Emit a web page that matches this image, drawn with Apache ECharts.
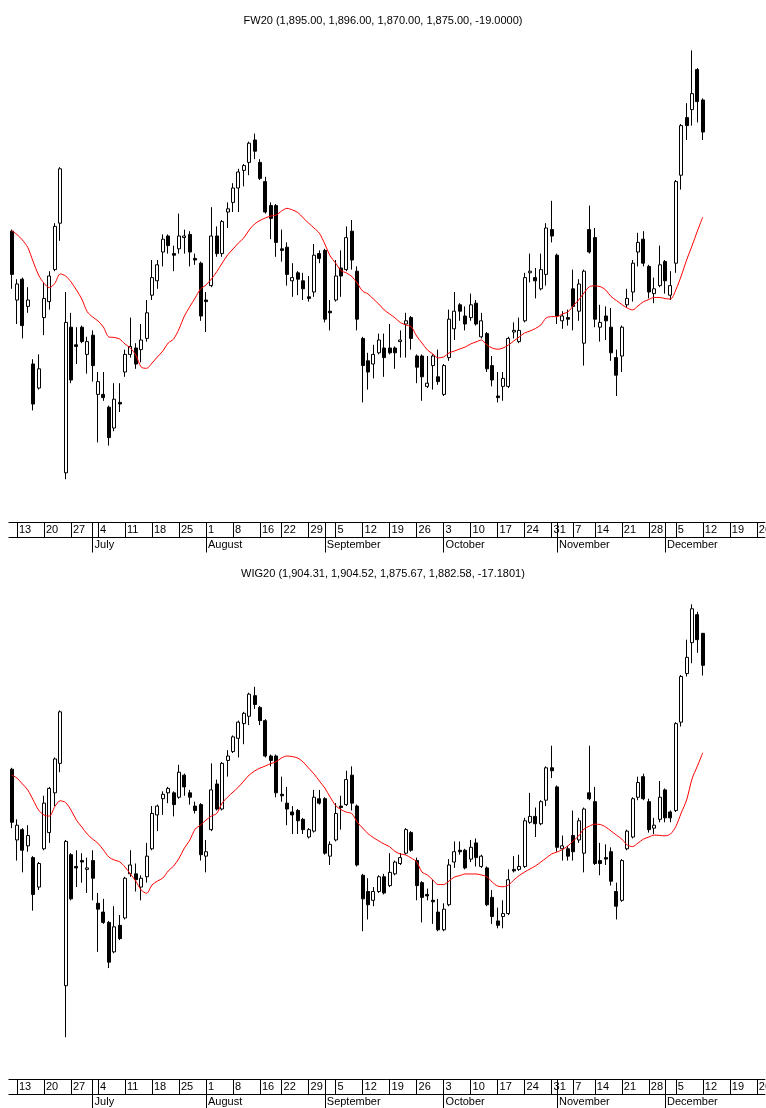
<!DOCTYPE html>
<html><head><meta charset="utf-8">
<script src="https://cdn.jsdelivr.net/npm/echarts@6/dist/echarts.min.js"></script>
<style>html,body{margin:0;padding:0;background:#fff}#chart{width:766px;height:1108px}</style>
</head><body><div id="chart"></div>
<script>
// ---- categories ----
const startDate = '2005-06-10';
const lastDataDate = '2005-12-12';
const endDate = '2005-12-27';
const holidays = ['2005-08-15', '2005-11-01', '2005-11-11'];
const monthNames = ['January','February','March','April','May','June','July','August','September','October','November','December'];

// ---- titles ----
const fw20Title = 'FW20 (1,895.00, 1,896.00, 1,870.00, 1,875.00, -19.0000)';
const wig20Title = 'WIG20 (1,904.31, 1,904.52, 1,875.67, 1,882.58, -17.1801)';

// ---- FW20 [open, close, low, high] ----
const fw20Candles = [
[1813,1786,1777,1814],[1770,1780,1755,1783],[1783,1754,1746,1784],[1766,1770,1762,1778],[1730,1705,1701,1733],
[1715,1727,1714,1736],[1759,1771,1748,1781],[1769,1785,1764,1788],[1789,1816,1788,1818],[1818,1852,1807,1853],
[1662,1756,1658,1775],[1753,1720,1718,1762],[1742,1741,1730,1753],[1753,1744,1743,1754],[1736,1744,1724,1747],
[1748,1729,1719,1751],[1711,1719,1681,1725],[1711,1709,1707,1725],[1703,1684,1679,1704],[1690,1708,1688,1718],
[1706,1705,1700,1718],[1725,1736,1722,1739],[1736,1741,1734,1759],[1740,1730,1727,1743],[1739,1745,1731,1755],
[1746,1762,1744,1770],[1773,1784,1770,1795],[1782,1792,1777,1795],[1800,1808,1791,1811],[1810,1804,1799,1811],
[1799,1798,1788,1804],[1802,1810,1799,1824],[1809,1810,1799,1814],[1811,1800,1791,1813],[1796,1795,1792,1799],
[1793,1760,1757,1794],[1770,1769,1750,1775],[1779,1810,1778,1828],[1810,1799,1797,1816],[1799,1819,1797,1820],
[1825,1827,1815,1831],[1831,1840,1825,1843],[1840,1850,1825,1852],[1851,1854,1841,1855],[1856,1868,1848,1869],
[1870,1863,1858,1874],[1856,1846,1845,1858],[1844,1825,1824,1847],[1829,1821,1808,1831],[1829,1806,1797,1830],
[1802,1801,1794,1814],[1803,1786,1779,1806],[1782,1784,1772,1793],[1787,1783,1773,1788],[1782,1777,1770,1787],
[1772,1771,1769,1785],[1775,1798,1772,1805],[1799,1796,1793,1801],[1801,1758,1756,1802],[1763,1762,1751,1770],
[1770,1785,1769,1795],[1790,1785,1772,1801],[1789,1809,1788,1816],[1813,1795,1789,1820],[1788,1758,1751,1791],
[1746,1729,1706,1747],[1732,1725,1714,1737],[1730,1736,1721,1742],[1737,1745,1736,1749],[1740,1734,1722,1749],
[1740,1737,1736,1755],[1740,1737,1727,1741],[1744,1745,1734,1751],[1755,1757,1734,1762],[1759,1746,1739,1760],
[1735,1728,1718,1736],[1735,1722,1707,1736],[1716,1718,1715,1735],[1729,1735,1714,1736],[1722,1719,1717,1739],
[1711,1729,1710,1730],[1734,1758,1732,1764],[1752,1763,1745,1775],[1767,1763,1757,1768],[1760,1755,1751,1766],
[1759,1767,1757,1774],[1768,1755,1754,1770],[1747,1757,1746,1762],[1749,1727,1725,1750],[1729,1720,1716,1735],
[1710,1709,1706,1725],[1716,1721,1707,1725],[1716,1746,1715,1747],[1750,1751,1746,1756],[1744,1751,1743,1759],
[1757,1784,1756,1787],[1787,1788,1781,1799],[1784,1782,1771,1790],[1777,1789,1776,1799],[1786,1815,1779,1818],
[1814,1810,1806,1832],[1798,1760,1755,1799],[1757,1760,1752,1763],[1759,1758,1754,1764],[1777,1766,1751,1789],
[1763,1780,1757,1783],[1743,1788,1729,1789],[1814,1800,1799,1829],[1809,1758,1753,1815],[1753,1756,1744,1767],
[1760,1757,1745,1766],[1753,1737,1732,1765],[1734,1723,1710,1739],[1735,1753,1725,1754],[1767,1771,1765,1777],
[1775,1793,1769,1795],[1800,1806,1791,1812],[1808,1793,1791,1813],[1791,1775,1771,1792],[1774,1777,1768,1784],
[1779,1792,1778,1804],[1794,1782,1774,1795],[1773,1779,1770,1788],[1793,1844,1787,1845],[1848,1879,1839,1880],
[1884,1879,1870,1893],[1889,1899,1879,1926],[1914,1894,1881,1915],[1895,1875,1870,1896]
];
const fw20Avg = [
1813.3,1810.9,1807.5,1802.8,1793.9,1785.6,1780.4,1777.7,1780.4,1786.3,
1785,1781.3,1776.3,1770.6,1762.7,1759.4,1756.9,1753.1,1746.9,1746.6,
1745.6,1742.5,1740,1735.6,1728.1,1727.3,1730.6,1734.4,1738.1,1743.1,
1745.6,1751.9,1760,1765.8,1771.3,1776.9,1779.4,1783.1,1787.7,1793.1,
1798.1,1801.9,1805.6,1808.8,1813.8,1817.5,1819.7,1821.3,1822.5,1823.1,
1825.6,1827.3,1826.3,1824.7,1821.3,1818.1,1815,1811.7,1805,1797.5,
1793.1,1788.4,1786.9,1784.7,1780.6,1775.6,1773.8,1770.6,1767.5,1763.8,
1761.3,1758.8,1755.9,1754.4,1753.3,1747.5,1743.1,1738.8,1736.3,1733.8,
1734.4,1736.9,1738.1,1739.4,1740.6,1742.5,1743.8,1745,1741.9,1740,
1739.2,1740,1741.9,1744.4,1746.9,1749.4,1750.6,1752.2,1754.4,1758.8,
1759.6,1759.6,1761.3,1762.5,1766.3,1770,1774.4,1778.3,1778.8,1778.4,
1776.3,1772.2,1769.7,1767.2,1765,1763.8,1766.3,1768.9,1770.3,1771.6,
1771.6,1770.9,1770.6,1776.3,1785,1795,1803.8,1813.1,1821.9
];

// ---- WIG20 [open, close, low, high] ----
const wig20Candles = [
[1812,1776,1772,1813],[1764,1774,1750,1778],[1771,1757,1742,1772],[1760,1767,1756,1774],[1752,1727,1716,1753],
[1732,1748,1730,1749],[1758,1789,1757,1794],[1769,1799,1762,1800],[1796,1819,1787,1820],[1816,1851,1810,1852],
[1665,1763,1630,1764],[1754,1724,1723,1755],[1746,1745,1732,1757],[1750,1749,1735,1755],[1744,1745,1728,1752],
[1750,1738,1723,1757],[1721,1717,1688,1728],[1715,1708,1707,1724],[1708,1681,1677,1709],[1688,1705,1687,1719],
[1706,1697,1696,1713],[1711,1738,1710,1739],[1741,1747,1739,1757],[1741,1737,1729,1748],[1732,1738,1723,1740],
[1739,1753,1735,1762],[1758,1782,1757,1787],[1781,1787,1770,1788],[1792,1795,1781,1797],[1796,1799,1789,1800],
[1796,1788,1780,1797],[1793,1810,1792,1815],[1808,1800,1794,1809],[1796,1793,1788,1798],[1787,1784,1782,1790],
[1788,1754,1750,1789],[1753,1756,1742,1764],[1771,1798,1770,1816],[1802,1785,1784,1805],[1785,1816,1784,1817],
[1818,1821,1807,1825],[1824,1834,1823,1835],[1833,1844,1820,1845],[1843,1850,1829,1851],[1848,1863,1842,1864],
[1862,1856,1853,1868],[1854,1845,1842,1855],[1845,1821,1820,1846],[1821,1818,1814,1822],[1821,1796,1793,1822],
[1795,1794,1790,1807],[1789,1785,1774,1800],[1783,1781,1768,1787],[1784,1777,1768,1785],[1778,1771,1768,1779],
[1766,1771,1765,1772],[1770,1793,1769,1798],[1792,1789,1788,1798],[1792,1755,1754,1793],[1753,1761,1747,1763],
[1764,1782,1763,1789],[1787,1786,1771,1794],[1788,1805,1787,1811],[1808,1789,1784,1814],[1787,1747,1746,1788],
[1740,1724,1702,1741],[1729,1720,1710,1738],[1723,1729,1719,1732],[1729,1739,1728,1740],[1739,1728,1727,1741],
[1733,1742,1732,1755],[1741,1749,1740,1750],[1748,1752,1747,1755],[1755,1771,1754,1772],[1769,1757,1756,1770],
[1750,1733,1723,1752],[1735,1725,1708,1736],[1727,1726,1723,1731],[1723,1722,1707,1737],[1715,1703,1702,1724],
[1703,1717,1702,1721],[1720,1747,1719,1751],[1749,1756,1745,1763],[1757,1756,1754,1763],[1757,1745,1744,1758],
[1751,1759,1749,1764],[1762,1752,1746,1765],[1746,1753,1745,1754],[1745,1720,1719,1746],[1725,1712,1707,1730],
[1709,1706,1704,1718],[1712,1714,1704,1723],[1714,1737,1713,1744],[1744,1743,1742,1753],[1744,1746,1743,1754],
[1746,1777,1745,1779],[1776,1780,1775,1796],[1780,1775,1766,1786],[1775,1790,1774,1791],[1791,1813,1787,1814],
[1813,1811,1806,1828],[1800,1759,1756,1801],[1758,1760,1750,1767],[1758,1753,1750,1760],[1767,1756,1750,1784],
[1764,1777,1762,1779],[1755,1785,1742,1786],[1796,1792,1791,1828],[1790,1748,1747,1800],[1750,1748,1740,1762],
[1752,1751,1747,1761],[1756,1736,1733,1759],[1729,1719,1710,1735],[1723,1750,1722,1751],[1758,1770,1757,1771],
[1766,1792,1765,1793],[1793,1803,1791,1807],[1807,1792,1791,1809],[1790,1771,1769,1792],[1772,1774,1768,1779],
[1778,1793,1776,1804],[1798,1779,1776,1799],[1783,1779,1776,1784],[1784,1843,1783,1844],[1844,1875,1841,1876],
[1877,1888,1875,1900],[1898,1921,1884,1924],[1917,1900,1891,1919],[1904.31,1882.58,1875.67,1904.52]
];
const wig20Avg = [
1808.1,1806.0,1802.0,1797.9,1791.1,1784.3,1780.9,1780.2,1786.6,1790.6,
1789.4,1784.3,1777.5,1772.8,1768.0,1764.6,1761.7,1757.2,1752.4,1750.4,
1749.2,1745.6,1740.9,1736.1,1730.0,1727.8,1733.4,1736.1,1738.1,1742.9,
1746.3,1751.5,1758.5,1763.9,1771.4,1774.1,1777.5,1780.2,1782.1,1789.1,
1793.1,1796.5,1799.9,1804.0,1808.1,1810.8,1812.8,1814.2,1815.9,1817.1,
1819.7,1821.0,1820.6,1819.6,1816.9,1812.8,1808.8,1804.0,1799.3,1793.1,
1787.4,1784.6,1782.9,1781.9,1776.2,1772.1,1768.3,1765.6,1763.3,1761.2,
1759.4,1756.2,1754.5,1753.8,1751.7,1749.2,1742.2,1740.2,1736.8,1733.7,
1733.7,1736.1,1738.8,1739.8,1740.9,1740.9,1740.9,1740.2,1739.0,1735.4,
1732.7,1732.2,1733.4,1736.8,1739.8,1742.2,1744.3,1746.3,1749.0,1751.7,
1754.5,1755.8,1757.5,1759.9,1763.3,1766.7,1771.4,1773.4,1774.7,1774.5,
1772.8,1770.1,1767.3,1764.6,1760.6,1759.5,1761.9,1764.6,1766.0,1767.3,
1767.1,1766.8,1768.0,1773.1,1782.3,1791.1,1805.4,1814.2,1823.2
];

// ---- build trading-day categories ----
function iso(d){ return d.toISOString().slice(0,10); }
const dates = [];
for (let t = Date.parse(startDate + 'T00:00:00Z'); ; t += 86400000) {
  const d = new Date(t), s = iso(d), wd = d.getUTCDay();
  if (s > endDate) break;
  if (wd === 0 || wd === 6) continue;
  if (s <= lastDataDate && holidays.indexOf(s) >= 0) continue;
  dates.push(s);
}
[fw20Candles, fw20Avg, wig20Candles, wig20Avg].forEach(a => { if (a.length !== 129) throw new Error('length ' + a.length); });

const wday = s => new Date(s + 'T00:00:00Z').getUTCDay();
const isWeekStart = i => i > 0 && wday(dates[i]) <= wday(dates[i - 1]);
const isMonthStart = i => i > 0 && dates[i].slice(5, 7) !== dates[i - 1].slice(5, 7);

const FONT = "'Liberation Sans', Arial, sans-serif";
const panels = [
  { title: fw20Title, titleTop: 15, gridTop: 44, gridH: 464, min: 1640, max: 1930, axisTop: 522.5, candles: fw20Candles, avg: fw20Avg },
  { title: wig20Title, titleTop: 568, gridTop: 595.5, gridH: 456.5, min: 1620, max: 1930, axisTop: 1079.5, candles: wig20Candles, avg: wig20Avg }
];

const option = { animation: false, backgroundColor: '#fff', title: [], grid: [], xAxis: [], yAxis: [], series: [] };
panels.forEach((p, k) => {
  option.title.push({ text: p.title, left: 'center', top: p.titleTop, padding: 0,
    textStyle: { fontSize: 11, fontWeight: 'normal', color: '#000', fontFamily: FONT } });
  option.grid.push({ left: 8.9, width: 756, top: p.gridTop, height: p.gridH, containLabel: false, outerBoundsMode: 'none' });
  const off = p.axisTop - (p.gridTop + p.gridH);
  // week row
  option.xAxis.push({ type: 'category', gridIndex: k, data: dates, position: 'bottom', offset: off, boundaryGap: true,
    axisLine: { show: true, lineStyle: { color: '#000', width: 1 } },
    axisTick: { show: true, interval: isWeekStart, alignWithLabel: true, length: 15, lineStyle: { color: '#000', width: 1 } },
    axisLabel: { show: true, interval: isWeekStart, formatter: v => String(+v.slice(8)), align: 'left', verticalAlign: 'middle',
      margin: 7.5, padding: [0, 0, 0, 2], fontSize: 11, color: '#000', fontFamily: FONT, hideOverlap: false },
    splitLine: { show: false } });
  // month row
  option.xAxis.push({ type: 'category', gridIndex: k, data: dates, position: 'bottom', offset: off, boundaryGap: true,
    axisLine: { show: false },
    axisTick: { show: true, interval: isMonthStart, alignWithLabel: true, length: 30, lineStyle: { color: '#000', width: 1 } },
    axisLabel: { show: true, interval: isMonthStart, formatter: v => monthNames[+v.slice(5, 7) - 1], align: 'left', verticalAlign: 'middle',
      margin: 22.5, padding: [0, 0, 0, 2], fontSize: 11, color: '#000', fontFamily: FONT, hideOverlap: false },
    splitLine: { show: false } });
  // bottom line of week row
  option.xAxis.push({ type: 'category', gridIndex: k, data: dates, position: 'bottom', offset: off + 15, boundaryGap: true,
    axisLine: { show: true, lineStyle: { color: '#000', width: 1 } }, axisTick: { show: false }, axisLabel: { show: false } });
  option.yAxis.push({ type: 'value', gridIndex: k, min: p.min, max: p.max, show: false, scale: true });
  option.series.push({ type: 'candlestick', name: k ? 'WIG20' : 'FW20', xAxisIndex: k * 3, yAxisIndex: k, data: p.candles,
    barWidth: 3.4, silent: true,
    itemStyle: { color: '#fff', color0: '#000', borderColor: '#000', borderColor0: '#000', borderWidth: 1 } });
  option.series.push({ type: 'line', xAxisIndex: k * 3, yAxisIndex: k, data: p.avg, symbol: 'none', smooth: 0.3, silent: true,
    lineStyle: { color: '#ff0000', width: 1 }, z: 3 });
});

const chart = echarts.init(document.getElementById('chart'), null, { renderer: 'canvas' });
chart.setOption(option);
</script>
</body></html>
